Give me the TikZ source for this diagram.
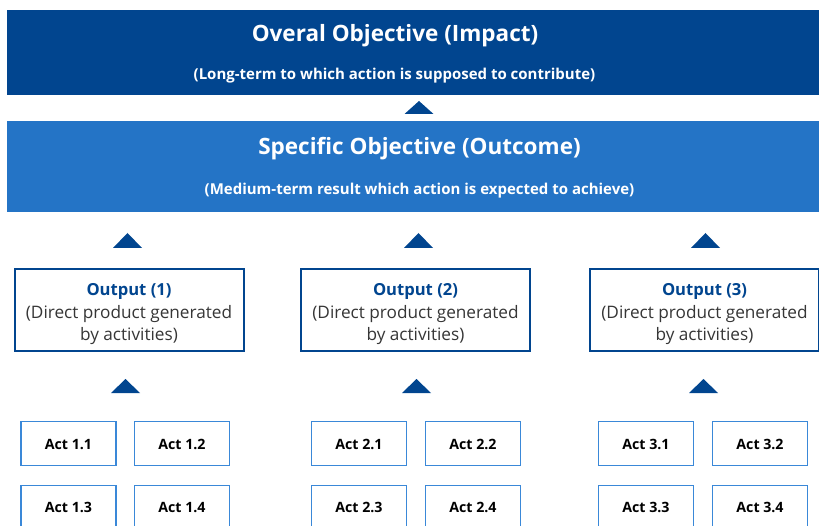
\documentclass[tikz,border=0pt]{standalone}
\usepackage{fontspec}
\setmainfont{Open Sans}
\definecolor{navy}{HTML}{01458F}
\definecolor{midblue}{HTML}{2474C6}
\definecolor{actblue}{HTML}{3A88D8}
\definecolor{bodygray}{HTML}{363636}
\begin{document}
\begin{tikzpicture}[x=1pt,y=-1pt,
  band/.style={draw=none,inner sep=0pt},
  bandtitle/.style={anchor=base,text=white,font=\fontsize{22.5}{26}\selectfont\bfseries,inner sep=0pt},
  bandsub/.style={anchor=base,text=white,font=\fontsize{15}{18}\selectfont\bfseries,inner sep=0pt},
  outbox/.style={draw=navy,line width=2pt,fill=white,minimum width=229pt,minimum height=82pt,inner sep=0pt},
  outhead/.style={anchor=base,text=navy,font=\fontsize{16.6}{20}\selectfont\bfseries,inner sep=0pt},
  outline/.style={anchor=base,text=bodygray,font=\fontsize{17.2}{20}\selectfont,inner sep=0pt},
  actbox/.style={draw=actblue,line width=1.8pt,fill=white,minimum width=95pt,minimum height=44pt,inner sep=0pt},
  acttext/.style={anchor=base,font=\fontsize{14.2}{17}\selectfont\bfseries,text=black,inner sep=0pt},
  uptri/.style={fill=navy}
]
\useasboundingbox (0,0) rectangle (819,526);
\clip (0,0) rectangle (819,526);

% objective bands
\node[band,fill=navy,minimum width=812pt,minimum height=85pt] (impact) at (413,52.5) {};
\node[bandtitle] (impactT) at (395,42) {Overal Objective (Impact)};
\node[bandsub] (impactS) at (394.5,80) {(Long-term to which action is supposed to contribute)};

\node[band,fill=midblue,minimum width=812pt,minimum height=91pt] (outcome) at (413,166.5) {};
\node[bandtitle] (outcomeT) at (419.5,155) {Specific Objective (Outcome)};
\node[bandsub] (outcomeS) at (419.5,195) {(Medium-term result which action is expected to achieve)};

% triangle between the bands
\fill[uptri] (404.5,114) -- (419,101) -- (433.5,114) -- cycle;

% outputs
\foreach \i/\x/\tx/\bx in {1/129/127.5/125.5, 2/415.5/418.5/416.5, 3/704.5/705.5/703.5} {
  \fill[uptri] (\tx-14.5,248) -- (\tx,233) -- (\tx+14.5,248) -- cycle;
  \node[outbox] (out\i) at (\x,310.5) {};
  \node[outhead] (outH\i) at (\x,295.7) {Output (\i)};
  \node[outline] (outL\i) at (\x,318.5) {(Direct product generated};
  \node[outline] (outM\i) at (\x,340.7) {by activities)};
  \fill[uptri] (\bx-14.5,393) -- (\bx,379) -- (\bx+14.5,393) -- cycle;
}

% activities
\foreach \i/\xa/\xb in {1/68.5/182, 2/359/473, 3/646/760} {
  \node[actbox] (act\i a) at (\xa,443.5) {};
  \node[actbox] (act\i b) at (\xb,443.5) {};
  \node[actbox] (act\i c) at (\xa,507.5) {};
  \node[actbox] (act\i d) at (\xb,507.5) {};
  \node[acttext] at (\xa,449) {Act \i.1};
  \node[acttext] at (\xb,449) {Act \i.2};
  \node[acttext] at (\xa,512.7) {Act \i.3};
  \node[acttext] at (\xb,512.7) {Act \i.4};
}
\end{tikzpicture}
\end{document}
